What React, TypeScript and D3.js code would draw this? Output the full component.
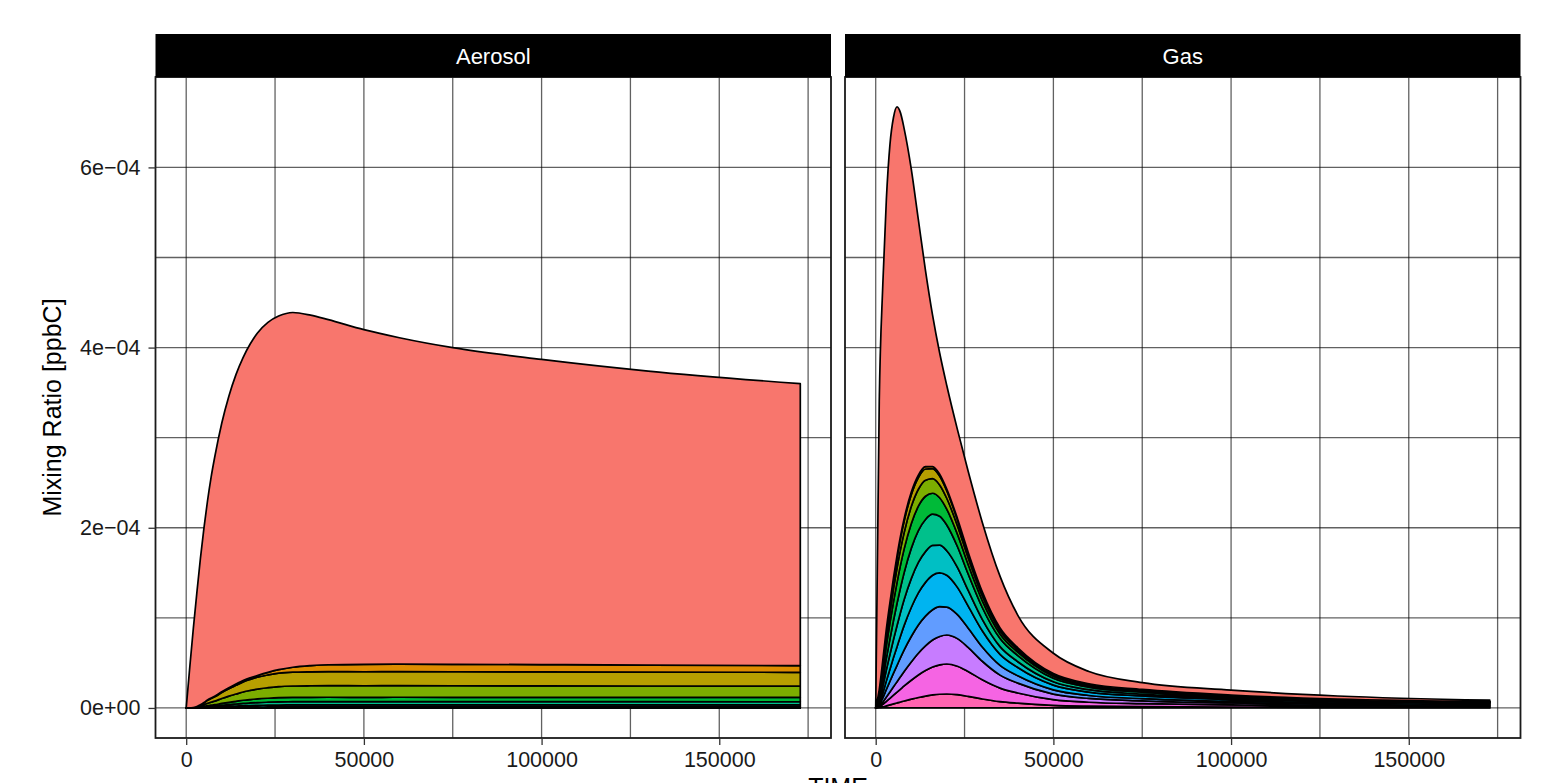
import React, { useEffect, useRef } from "react";
import * as d3 from "d3";

// model output times (s)
const TIME = [0, 1000, 2000, 3000, 4000, 5000, 6000, 7000, 8000, 10000, 12000, 14000, 16000, 18000, 20000,
  23000, 26000, 30000, 35000, 40000, 50000, 60000, 75000, 100000, 130000, 172800];

// mixing ratios in units of 1e-5 ppbC, one array per lumped group (g01 = first level, top of stack)
const UNIT = 1e-5;

const AEROSOL: Record<string, number[]> = {
  g01: [0, 4.5, 8.75, 12.65, 16.25, 19.4, 22.1, 24.5, 26.5, 29.8, 32.35, 34.35, 35.85, 37.05, 38.0, 38.85, 39.25, 39.38, 38.9, 38.3, 37.15, 36.24, 35.15, 33.88, 32.64, 31.3],
  g02: [0, 0, 0.003, 0.008, 0.018, 0.03, 0.045, 0.055, 0.065, 0.09, 0.113, 0.133, 0.153, 0.168, 0.18, 0.277, 0.383, 0.542, 0.682, 0.768, 0.825, 0.826, 0.825, 0.819, 0.785, 0.738],
  g03: [0, 0, 0.018, 0.055, 0.128, 0.22, 0.33, 0.403, 0.477, 0.66, 0.825, 0.972, 1.118, 1.228, 1.32, 1.418, 1.493, 1.535, 1.551, 1.556, 1.554, 1.557, 1.554, 1.544, 1.534, 1.529],
  g04: [0, 0, 0.015, 0.045, 0.106, 0.182, 0.273, 0.333, 0.394, 0.545, 0.682, 0.803, 0.924, 1.015, 1.091, 1.172, 1.234, 1.269, 1.282, 1.286, 1.284, 1.287, 1.284, 1.276, 1.268, 1.264],
  g05: [0, 0, 0.006, 0.017, 0.04, 0.068, 0.103, 0.125, 0.148, 0.205, 0.257, 0.302, 0.348, 0.382, 0.41, 0.441, 0.464, 0.477, 0.482, 0.484, 0.483, 0.484, 0.483, 0.48, 0.477, 0.475],
  g06: [0, 0, 0.004, 0.013, 0.03, 0.051, 0.077, 0.094, 0.111, 0.154, 0.192, 0.227, 0.261, 0.286, 0.308, 0.331, 0.348, 0.358, 0.362, 0.363, 0.362, 0.363, 0.362, 0.36, 0.358, 0.357],
  g07: [0, 0, 0.003, 0.008, 0.018, 0.031, 0.046, 0.056, 0.067, 0.092, 0.115, 0.136, 0.156, 0.172, 0.185, 0.198, 0.209, 0.215, 0.217, 0.218, 0.217, 0.218, 0.217, 0.216, 0.215, 0.214],
  g08: [0, 0, 0.001, 0.003, 0.006, 0.01, 0.015, 0.019, 0.022, 0.031, 0.038, 0.045, 0.052, 0.057, 0.062, 0.066, 0.07, 0.072, 0.072, 0.073, 0.072, 0.073, 0.072, 0.072, 0.072, 0.071],
  g09: [0, 0, 0.001, 0.002, 0.004, 0.007, 0.01, 0.013, 0.015, 0.021, 0.026, 0.03, 0.035, 0.038, 0.041, 0.044, 0.046, 0.048, 0.048, 0.048, 0.048, 0.048, 0.048, 0.048, 0.048, 0.048],
};

const GAS: Record<string, number[]> = {
  g01: [0, 32.0, 41.7, 47.7, 50.8, 51.1, 49.8, 46.9, 43.3, 35.9, 28.35, 21.8, 16.8, 13.45, 11.5, 9.86, 8.98, 7.7, 5.72, 3.6, 2.25, 1.35, 0.75, 0.55, 0.35, 0.16],
  g02: [0, 0.038, 0.092, 0.14, 0.176, 0.205, 0.23, 0.248, 0.259, 0.27, 0.267, 0.254, 0.23, 0.203, 0.173, 0.135, 0.105, 0.076, 0.051, 0.038, 0.023, 0.017, 0.013, 0.009, 0.006, 0.004],
  g03: [0, 0.185, 0.449, 0.686, 0.858, 1.003, 1.122, 1.214, 1.267, 1.32, 1.307, 1.241, 1.122, 0.99, 0.845, 0.66, 0.515, 0.37, 0.251, 0.185, 0.112, 0.082, 0.065, 0.045, 0.03, 0.021],
  g04: [0, 0.266, 0.646, 0.988, 1.235, 1.444, 1.615, 1.748, 1.824, 1.9, 1.881, 1.786, 1.615, 1.425, 1.216, 0.95, 0.741, 0.532, 0.361, 0.266, 0.162, 0.118, 0.093, 0.065, 0.044, 0.03],
  g05: [0, 0.384, 0.932, 1.425, 1.781, 2.082, 2.329, 2.521, 2.63, 2.74, 2.713, 2.576, 2.329, 2.055, 1.754, 1.37, 1.069, 0.767, 0.521, 0.384, 0.233, 0.17, 0.134, 0.093, 0.063, 0.044],
  g06: [0, 0.286, 0.785, 1.285, 1.714, 2.106, 2.463, 2.749, 2.999, 3.356, 3.534, 3.57, 3.463, 3.213, 2.856, 2.321, 1.821, 1.321, 0.893, 0.678, 0.386, 0.278, 0.218, 0.15, 0.1, 0.071],
  g07: [0, 0.273, 0.75, 1.228, 1.637, 2.012, 2.353, 2.626, 2.864, 3.205, 3.376, 3.41, 3.308, 3.069, 2.728, 2.217, 1.739, 1.262, 0.853, 0.648, 0.368, 0.266, 0.208, 0.143, 0.095, 0.068],
  g08: [0, 0.192, 0.536, 0.958, 1.341, 1.724, 2.068, 2.413, 2.719, 3.217, 3.562, 3.753, 3.83, 3.753, 3.524, 3.026, 2.451, 1.8, 1.226, 0.919, 0.529, 0.375, 0.291, 0.203, 0.138, 0.1],
  g09: [0, 0.169, 0.472, 0.843, 1.18, 1.517, 1.82, 2.123, 2.393, 2.831, 3.134, 3.303, 3.37, 3.303, 3.1, 2.662, 2.157, 1.584, 1.078, 0.809, 0.465, 0.33, 0.256, 0.179, 0.121, 0.088],
  g10: [0, 0.097, 0.258, 0.483, 0.708, 0.934, 1.159, 1.385, 1.61, 2.029, 2.415, 2.737, 2.995, 3.156, 3.22, 3.059, 2.673, 2.061, 1.449, 1.095, 0.612, 0.419, 0.312, 0.219, 0.151, 0.109],
  g11: [0, 0.1, 0.266, 0.5, 0.733, 0.966, 1.199, 1.432, 1.665, 2.098, 2.498, 2.831, 3.097, 3.263, 3.33, 3.164, 2.764, 2.131, 1.499, 1.132, 0.633, 0.433, 0.323, 0.226, 0.157, 0.113],
  g12: [0, 0.047, 0.124, 0.233, 0.341, 0.45, 0.558, 0.667, 0.775, 0.977, 1.163, 1.318, 1.442, 1.519, 1.55, 1.473, 1.287, 0.992, 0.698, 0.527, 0.295, 0.202, 0.15, 0.105, 0.073, 0.053],
};

const GROUPS = ["g01", "g02", "g03", "g04", "g05", "g06", "g07", "g08", "g09", "g10", "g11", "g12"];
const COLORS = ["#F8766D", "#DE8C00", "#B79F00", "#7CAE00", "#00BA38", "#00C08B",
  "#00BFC4", "#00B4F0", "#619CFF", "#C77CFF", "#F564E3", "#FF64B0"];

const FACETS = ["Aerosol", "Gas"];
const X_TICKS = [0, 50000, 100000, 150000];
const X_MINOR = [25000, 75000, 125000, 175000];
const Y_TICKS = [0, 2e-4, 4e-4, 6e-4];
const Y_MINOR = [1e-4, 3e-4, 5e-4, 7e-4];

const FONT = "'Liberation Sans', Arial, Helvetica, sans-serif";

const sci = (v: number) => {
  const [m, e] = v.toExponential(0).split("e");
  const n = +e;
  return `${m}e${n < 0 ? "\u2212" : "+"}${String(Math.abs(n)).padStart(2, "0")}`;
};

function App() {
  const ref = useRef<SVGSVGElement>(null);

  useEffect(() => {
    const svg = d3.select(ref.current);
    svg.selectAll("*").remove();

    const top = 77, bottom = 738, stripTop = 34;
    const panels = [
      { name: FACETS[0], x0: 155.5, x1: 831, data: AEROSOL },
      { name: FACETS[1], x0: 845, x1: 1520.5, data: GAS },
    ];

    const y = d3.scaleLinear().domain([-3.335e-5, 7.0035e-4]).range([bottom, top]);

    // stacking from bottom (last level) to top (first level), like ggplot
    const order = GROUPS.slice().reverse();

    panels.forEach((p, pi) => {
      const x = d3.scaleLinear().domain([-8640, 181440]).range([p.x0, p.x1]);
      const g = svg.append("g");

      g.append("rect").attr("x", p.x0).attr("y", top).attr("width", p.x1 - p.x0)
        .attr("height", bottom - top).attr("fill", "#fff");

      const grid = g.append("g").attr("stroke", "#000").attr("fill", "none")
        .attr("stroke-opacity", 0.62).attr("stroke-width", 1.3);
      [...X_MINOR, ...X_TICKS].forEach((v) => grid.append("line").attr("x1", x(v)).attr("x2", x(v))
        .attr("y1", top).attr("y2", bottom));
      [...Y_MINOR, ...Y_TICKS].forEach((v) => grid.append("line").attr("y1", y(v)).attr("y2", y(v))
        .attr("x1", p.x0).attr("x2", p.x1));

      const rows = TIME.map((t, i) => {
        const r: any = { t };
        GROUPS.forEach((k) => { r[k] = ((p.data[k] || [])[i] || 0) * UNIT; });
        return r;
      });
      const series = d3.stack<any>().keys(order)(rows);
      const area = d3.area<any>()
        .x((d) => x(d.data.t))
        .y0((d) => y(d[0]))
        .y1((d) => y(d[1]))
        .curve(d3.curveMonotoneX);

      g.append("g").selectAll("path").data(series).join("path")
        .attr("d", (s: any) => area(s))
        .attr("fill", (s: any) => COLORS[GROUPS.indexOf(s.key)])
        .attr("stroke", "#000")
        .attr("stroke-width", 1.7)
        .attr("stroke-linejoin", "round");

      g.append("rect").attr("x", p.x0).attr("y", top).attr("width", p.x1 - p.x0)
        .attr("height", bottom - top).attr("fill", "none").attr("stroke", "#1a1a1a").attr("stroke-width", 1.8);

      // strip
      g.append("rect").attr("x", p.x0).attr("y", stripTop).attr("width", p.x1 - p.x0)
        .attr("height", top - stripTop).attr("fill", "#000");
      g.append("text").attr("x", (p.x0 + p.x1) / 2).attr("y", 63.5)
        .attr("text-anchor", "middle").attr("fill", "#fff")
        .style("font-family", FONT).style("font-size", "22px").text(p.name);

      // x axis
      const xa = g.append("g").attr("transform", `translate(0,${bottom})`)
        .call(d3.axisBottom(x).tickValues(X_TICKS).tickFormat(d3.format("d") as any)
          .tickSize(7).tickSizeOuter(0).tickPadding(7));
      xa.select(".domain").remove();
      xa.selectAll("line").attr("stroke", "#333").attr("stroke-width", 1.3);
      xa.selectAll("text").attr("fill", "#1a1a1a").style("font-family", FONT).style("font-size", "21.5px");

      if (pi === 0) {
        const ya = g.append("g").attr("transform", `translate(${p.x0},0)`)
          .call(d3.axisLeft(y).tickValues(Y_TICKS).tickFormat(sci as any)
            .tickSize(7).tickSizeOuter(0).tickPadding(8));
        ya.select(".domain").remove();
        ya.selectAll("line").attr("stroke", "#333").attr("stroke-width", 1.3);
        ya.selectAll("text").attr("fill", "#1a1a1a").style("font-family", FONT).style("font-size", "21.5px");
      }
    });

    svg.append("text")
      .attr("transform", `translate(61,${(top + bottom) / 2}) rotate(-90)`)
      .attr("text-anchor", "middle")
      .style("font-family", FONT).style("font-size", "25px")
      .text("Mixing Ratio [ppbC]");

    svg.append("text")
      .attr("x", (155.5 + 1520.5) / 2).attr("y", 796)
      .attr("text-anchor", "middle")
      .style("font-family", FONT).style("font-size", "25px")
      .text("TIME");
  }, []);

  return (
    <svg ref={ref} width={1541} height={783}
      style={{ position: "absolute", left: 0, top: 0, background: "#fff" }} />
  );
}

export default App;
